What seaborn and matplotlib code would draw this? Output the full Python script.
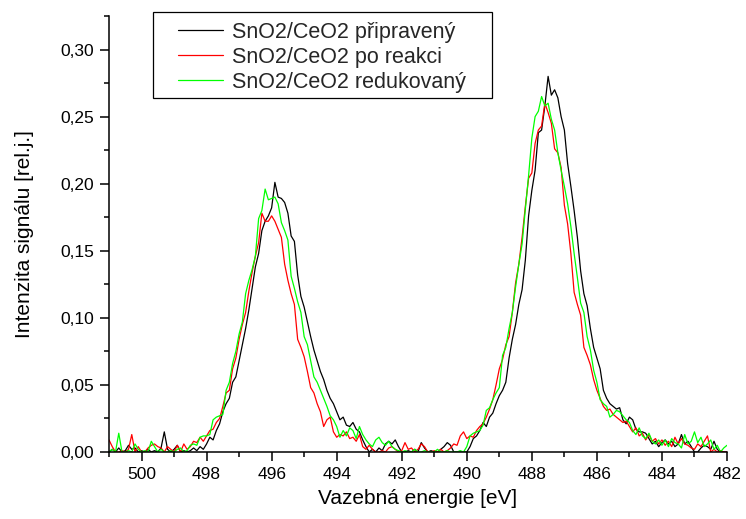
import numpy as np
import pandas as pd
import seaborn as sns
import matplotlib.pyplot as plt
from matplotlib.ticker import MultipleLocator, FuncFormatter
from matplotlib.patches import Rectangle

# vazebna energie, krok 0.1 eV (501.0 -> 482.0)
energie = np.round(np.arange(501.0, 481.95, -0.1), 1)

# hodnoty, jeden radek = 1 eV
pripraveny = [
    0.000, 0.002, 0.000, 0.003, 0.000, 0.001, 0.005, 0.002, 0.003, 0.000,
    0.001, 0.000, 0.002, 0.000, 0.001, 0.000, 0.003, 0.015, 0.002, 0.000,
    0.002, 0.005, 0.000, 0.001, 0.000, 0.001, 0.003, 0.001, 0.004, 0.002,
    0.006, 0.011, 0.009, 0.016, 0.021, 0.030, 0.036, 0.040, 0.052, 0.056,
    0.068, 0.080, 0.092, 0.106, 0.122, 0.138, 0.148, 0.165, 0.172, 0.176,
    0.182, 0.201, 0.190, 0.189, 0.186, 0.178, 0.161, 0.157, 0.132, 0.116,
    0.108, 0.097, 0.086, 0.076, 0.068, 0.060, 0.054, 0.046, 0.040, 0.036,
    0.030, 0.024, 0.026, 0.020, 0.019, 0.022, 0.017, 0.015, 0.009, 0.004,
    0.000, 0.002, 0.000, 0.003, 0.001, 0.006, 0.008, 0.006, 0.009, 0.004,
    0.000, 0.000, 0.001, 0.000, 0.002, 0.000, 0.007, 0.003, 0.000, 0.001,
    0.000, 0.000, 0.002, 0.004, 0.007, 0.005, 0.000, 0.000, 0.000, 0.000,
    0.000, 0.004, 0.010, 0.012, 0.016, 0.022, 0.019, 0.026, 0.029, 0.036,
    0.042, 0.046, 0.052, 0.070, 0.084, 0.095, 0.110, 0.121, 0.143, 0.176,
    0.195, 0.210, 0.238, 0.240, 0.258, 0.280, 0.266, 0.270, 0.264, 0.250,
    0.240, 0.215, 0.198, 0.180, 0.160, 0.135, 0.118, 0.109, 0.092, 0.078,
    0.070, 0.062, 0.046, 0.040, 0.036, 0.034, 0.032, 0.033, 0.024, 0.021,
    0.026, 0.024, 0.017, 0.015, 0.015, 0.014, 0.010, 0.006, 0.008, 0.004,
    0.007, 0.009, 0.006, 0.008, 0.004, 0.006, 0.013, 0.006, 0.008, 0.004,
    0.000, 0.000, 0.003, 0.005, 0.004, 0.002, 0.008, 0.002, 0.000, 0.000,
    0.000,
]

po_reakci = [
    0.009, 0.004, 0.000, 0.000, 0.001, 0.000, 0.002, 0.013, 0.000, 0.004,
    0.000, 0.000, 0.003, 0.005, 0.006, 0.004, 0.003, 0.000, 0.004, 0.002,
    0.000, 0.005, 0.000, 0.006, 0.002, 0.004, 0.008, 0.007, 0.011, 0.008,
    0.012, 0.016, 0.017, 0.022, 0.025, 0.034, 0.044, 0.046, 0.062, 0.070,
    0.084, 0.095, 0.104, 0.120, 0.134, 0.146, 0.156, 0.178, 0.172, 0.172,
    0.176, 0.172, 0.166, 0.160, 0.140, 0.128, 0.118, 0.110, 0.084, 0.078,
    0.071, 0.060, 0.048, 0.044, 0.036, 0.030, 0.019, 0.024, 0.026, 0.015,
    0.011, 0.013, 0.012, 0.015, 0.010, 0.011, 0.008, 0.013, 0.004, 0.002,
    0.005, 0.002, 0.000, 0.000, 0.001, 0.000, 0.003, 0.004, 0.002, 0.000,
    0.001, 0.007, 0.002, 0.003, 0.000, 0.002, 0.006, 0.004, 0.000, 0.000,
    0.001, 0.000, 0.002, 0.000, 0.001, 0.003, 0.006, 0.005, 0.012, 0.015,
    0.010, 0.012, 0.011, 0.016, 0.019, 0.021, 0.026, 0.032, 0.039, 0.050,
    0.062, 0.069, 0.080, 0.086, 0.104, 0.126, 0.140, 0.160, 0.183, 0.204,
    0.208, 0.230, 0.240, 0.243, 0.260, 0.253, 0.245, 0.226, 0.223, 0.212,
    0.184, 0.170, 0.148, 0.119, 0.110, 0.102, 0.078, 0.072, 0.065, 0.054,
    0.046, 0.040, 0.034, 0.031, 0.032, 0.028, 0.026, 0.024, 0.022, 0.023,
    0.019, 0.015, 0.018, 0.012, 0.014, 0.009, 0.013, 0.008, 0.010, 0.006,
    0.009, 0.005, 0.008, 0.004, 0.011, 0.006, 0.010, 0.006, 0.005, 0.003,
    0.002, 0.006, 0.004, 0.008, 0.012, 0.000, 0.002, 0.000, 0.001, 0.000,
    0.000,
]

redukovany = [
    0.000, 0.002, 0.000, 0.014, 0.000, 0.000, 0.001, 0.000, 0.006, 0.002,
    0.000, 0.001, 0.000, 0.008, 0.004, 0.000, 0.002, 0.000, 0.000, 0.001,
    0.000, 0.002, 0.003, 0.000, 0.001, 0.005, 0.006, 0.005, 0.011, 0.012,
    0.012, 0.013, 0.024, 0.026, 0.027, 0.028, 0.046, 0.052, 0.066, 0.075,
    0.088, 0.097, 0.118, 0.128, 0.136, 0.146, 0.174, 0.180, 0.196, 0.188,
    0.189, 0.190, 0.185, 0.171, 0.165, 0.158, 0.131, 0.122, 0.112, 0.104,
    0.086, 0.080, 0.068, 0.056, 0.052, 0.046, 0.040, 0.034, 0.027, 0.024,
    0.019, 0.011, 0.016, 0.012, 0.018, 0.016, 0.010, 0.019, 0.013, 0.009,
    0.006, 0.004, 0.009, 0.011, 0.007, 0.005, 0.008, 0.004, 0.002, 0.001,
    0.000, 0.001, 0.000, 0.000, 0.002, 0.000, 0.000, 0.001, 0.000, 0.000,
    0.000, 0.002, 0.000, 0.000, 0.001, 0.000, 0.000, 0.000, 0.001, 0.000,
    0.004, 0.012, 0.014, 0.015, 0.016, 0.020, 0.031, 0.033, 0.039, 0.044,
    0.048, 0.072, 0.078, 0.092, 0.104, 0.123, 0.140, 0.155, 0.181, 0.206,
    0.234, 0.250, 0.254, 0.265, 0.258, 0.260, 0.248, 0.240, 0.223, 0.210,
    0.198, 0.185, 0.168, 0.148, 0.130, 0.111, 0.104, 0.086, 0.076, 0.061,
    0.052, 0.039, 0.036, 0.034, 0.026, 0.028, 0.031, 0.030, 0.027, 0.024,
    0.022, 0.016, 0.013, 0.018, 0.012, 0.010, 0.014, 0.008, 0.006, 0.009,
    0.005, 0.009, 0.004, 0.010, 0.007, 0.006, 0.003, 0.013, 0.006, 0.008,
    0.015, 0.007, 0.011, 0.004, 0.006, 0.009, 0.002, 0.005, 0.000, 0.003,
    0.005,
]

nazvy = ["SnO2/CeO2 připravený", "SnO2/CeO2 po reakci", "SnO2/CeO2 redukovaný"]
barvy = ["black", "#ff0000", "#00ff00"]

assert len(pripraveny) == len(po_reakci) == len(redukovany) == len(energie)

df = pd.DataFrame({
    "energie": np.tile(energie, 3),
    "intenzita": pripraveny + po_reakci + redukovany,
    "vzorek": np.repeat(nazvy, len(energie)),
})

sns.set_style("ticks")
plt.rcParams["font.family"] = ["Liberation Sans", "DejaVu Sans"]

fig = plt.figure(figsize=(7.46, 5.19), dpi=100)
ax = fig.add_axes([109 / 746, 67 / 519, 618 / 746, 436 / 519])

sns.lineplot(data=df, x="energie", y="intenzita", hue="vzorek", hue_order=nazvy,
             palette=barvy, estimator=None, sort=False, lw=0.9, legend=False, ax=ax)

ax.set_xlim(501, 482)
ax.set_ylim(0, 0.325)
ax.xaxis.set_major_locator(MultipleLocator(2))
ax.xaxis.set_minor_locator(MultipleLocator(1))
ax.yaxis.set_major_locator(MultipleLocator(0.05))
ax.yaxis.set_minor_locator(MultipleLocator(0.025))
ax.xaxis.set_major_formatter(FuncFormatter(lambda v, p: f"{v:.0f}"))
ax.yaxis.set_major_formatter(FuncFormatter(lambda v, p: f"{v:.2f}".replace(".", ",")))

sns.despine(ax=ax)
for s in ["left", "bottom"]:
    ax.spines[s].set_linewidth(1.1)
    ax.spines[s].set_color("black")
ax.tick_params(which="major", direction="out", length=6.5, width=1.1, labelsize=12.5,
               color="black", labelcolor="black", pad=4)
ax.tick_params(which="minor", direction="out", length=3.5, width=1.1, color="black")

ax.set_xlabel("Vazebná energie [eV]", fontsize=15, color="black", labelpad=5)
ax.set_ylabel("Intenzita signálu [rel.j.]", fontsize=15, color="black", labelpad=19)

leg = ax.legend(ax.lines[:3], nazvy, loc="upper left",
                bbox_to_anchor=(178 / 746, 1 - 22 / 519), bbox_transform=fig.transFigure,
                frameon=False, fontsize=15.5, borderpad=0, borderaxespad=0,
                handlelength=2.1, handletextpad=0.4, labelspacing=0.18)
for h in leg.legend_handles:
    h.set_linewidth(0.9)
fig.add_artist(Rectangle((153 / 746, 1 - 98 / 519), 339 / 746, 86 / 519,
                         transform=fig.transFigure, fill=False, ec="black", lw=0.9))

fig.savefig("out.png", dpi=100)
